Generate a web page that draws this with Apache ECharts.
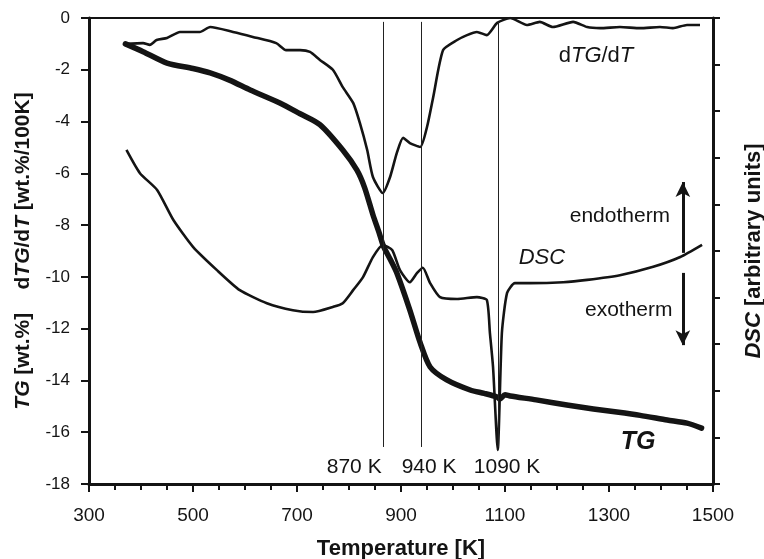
<!DOCTYPE html>
<html>
<head>
<meta charset="utf-8">
<script src="https://cdn.jsdelivr.net/npm/echarts@6/dist/echarts.min.js"></script>
<style>
html,body{margin:0;padding:0;background:#fff;}
#chart{width:764px;height:559px;}
</style>
</head>
<body>
<div id="chart"></div>
<script>
// ---- data ----
var tgT   = [370, 404, 450, 500, 533, 570, 610, 667, 706, 744, 788, 815, 830, 846, 858, 866, 880, 892, 917, 937, 956, 988, 1033, 1060, 1085, 1090, 1100, 1110, 1160, 1219, 1270, 1315, 1360, 1412, 1450, 1478];
var tgV   = [-1.0, -1.3, -1.74, -1.95, -2.12, -2.4, -2.78, -3.28, -3.7, -4.12, -5.1, -5.87, -6.55, -7.6, -8.3, -8.8, -9.35, -9.85, -11.28, -12.55, -13.48, -13.98, -14.37, -14.5, -14.64, -14.72, -14.55, -14.6, -14.75, -14.95, -15.1, -15.22, -15.35, -15.53, -15.65, -15.84];

var dtgT  = [370, 404, 417, 430, 450, 475, 513, 533, 577, 615, 660, 679, 706, 725, 744, 769, 788, 808, 821, 835, 846, 865, 879, 892, 904, 917, 937, 950, 962, 981, 1008, 1027, 1046, 1065, 1085, 1110, 1142, 1167, 1192, 1231, 1258, 1283, 1321, 1360, 1398, 1423, 1450, 1475];
var dtgV  = [-1.0, -0.97, -1.04, -0.85, -0.77, -0.54, -0.54, -0.35, -0.54, -0.73, -0.97, -1.24, -1.24, -1.31, -1.62, -2.0, -2.67, -3.28, -4.06, -5.1, -6.14, -6.76, -6.14, -5.21, -4.63, -4.83, -4.98, -4.21, -3.05, -1.24, -0.85, -0.66, -0.54, -0.66, -0.19, 0, -0.27, -0.15, -0.35, -0.15, -0.35, -0.39, -0.35, -0.39, -0.35, -0.39, -0.27, -0.27];

var dscT  = [372, 398, 431, 462, 500, 546, 590, 642, 692, 731, 769, 788, 808, 827, 846, 865, 883, 898, 917, 931, 942, 956, 975, 1008, 1046, 1065, 1071, 1077, 1086, 1094, 1104, 1119, 1148, 1212, 1258, 1321, 1385, 1437, 1479];
var dscV  = [7.17, 6.67, 6.31, 5.67, 5.09, 4.59, 4.16, 3.88, 3.73, 3.69, 3.80, 3.88, 4.16, 4.44, 4.87, 5.13, 5.02, 4.59, 4.33, 4.53, 4.64, 4.31, 4.01, 3.97, 4.01, 3.95, 3.24, 2.51, 0.73, 3.24, 4.10, 4.31, 4.31, 4.33, 4.38, 4.48, 4.66, 4.87, 5.13];

var eventT      = [865, 938, 1087];
var eventLabels = ['870 K', '940 K', '1090 K'];
var eventLabelT = [810, 954, 1104];

var xTicks = [300, 500, 700, 900, 1100, 1300, 1500];
var yTicks = [0, -2, -4, -6, -8, -10, -12, -14, -16, -18];

// ---- chart ----
var FONT = "'Liberation Sans', Arial, Helvetica, sans-serif";
var INK = '#141414';
function pairs(xs, ys) { return xs.map(function (x, i) { return [x, ys[i]]; }); }

var vLines = eventT.map(function (t) {
  return [{ coord: [t, -16.57] }, { coord: [t, -0.15] }];
});
var eventPts = eventT.map(function (t, i) {
  return { coord: [eventLabelT[i], -17.34], value: eventLabels[i] };
});

var chart = echarts.init(document.getElementById('chart'), null, { renderer: 'canvas' });
var txt = function (size, style, weight) {
  return { fontFamily: FONT, fontSize: size, fontStyle: style || 'normal', fontWeight: weight || 'normal', color: INK };
};

chart.setOption({
  animation: false,
  backgroundColor: '#fff',
  grid: { left: 89, right: 51, top: 18, bottom: 75, containLabel: false, outerBoundsMode: 'none' },
  xAxis: [{
    type: 'value', min: xTicks[0], max: xTicks[xTicks.length - 1], interval: 200,
    position: 'bottom',
    name: 'Temperature [K]', nameLocation: 'middle', nameGap: 54,
    nameTextStyle: txt(22, 'normal', 'bold'),
    axisLine: { show: true, onZero: false, lineStyle: { color: INK, width: 3 } },
    axisTick: { show: true, inside: false, length: 8, lineStyle: { color: INK, width: 2 } },
    minorTick: { show: true, splitNumber: 4, length: 6, lineStyle: { color: INK, width: 2 } },
    axisLabel: Object.assign({ margin: 22, formatter: function (v) { return String(v); } }, txt(19)),
    splitLine: { show: false }, minorSplitLine: { show: false }
  }, {
    type: 'value', min: 300, max: 1500, position: 'top',
    axisLine: { show: true, onZero: false, lineStyle: { color: INK, width: 2 } },
    axisTick: { show: false }, axisLabel: { show: false }, splitLine: { show: false }
  }],
  yAxis: [{
    type: 'value', min: yTicks[yTicks.length - 1], max: yTicks[0], interval: 2,
    position: 'left',
    name: '{i|TG}{n| [wt.%]    d}{i|TG}{n|/d}{i|T}{n| [wt.%/100K]}',
    nameLocation: 'middle', nameRotate: 90, nameGap: 55,
    nameTextStyle: Object.assign(txt(21, 'normal', 'bold'), {
      rich: { i: txt(21, 'italic', 'bold'), n: txt(21, 'normal', 'bold') }
    }),
    axisLine: { show: true, onZero: false, lineStyle: { color: INK, width: 3 } },
    axisTick: { show: true, inside: false, length: 8, lineStyle: { color: INK, width: 2 } },
    axisLabel: Object.assign({ margin: 19, formatter: function (v) { return String(v); } }, txt(17)),
    splitLine: { show: false }
  }, {
    type: 'value', min: 0, max: 10, interval: 1,
    position: 'right',
    name: '{i|DSC}{n| [arbitrary units]}',
    nameLocation: 'middle', nameRotate: 90, nameGap: 30,
    nameTextStyle: Object.assign(txt(22, 'normal', 'bold'), {
      rich: { i: txt(22, 'italic', 'bold'), n: txt(22, 'normal', 'bold') }
    }),
    axisLine: { show: true, onZero: false, lineStyle: { color: INK, width: 3 } },
    axisTick: { show: true, inside: false, length: 7, lineStyle: { color: INK, width: 2 } },
    axisLabel: { show: false },
    splitLine: { show: false }
  }],
  series: [{
    name: 'TG', type: 'line', xAxisIndex: 0, yAxisIndex: 0,
    data: pairs(tgT, tgV), showSymbol: false, symbol: 'none', smooth: 0.25,
    lineStyle: { color: INK, width: 5.5, join: 'round', cap: 'round' },
    z: 3,
    markLine: {
      silent: true, symbol: ['none', 'none'], animation: false,
      label: { show: false },
      lineStyle: { color: '#222', width: 1, type: 'solid' },
      emphasis: { disabled: true },
      data: vLines
    },
    markPoint: {
      silent: true, symbol: 'circle', symbolSize: 0, animation: false,
      label: { show: true, position: 'inside', formatter: function (p) { return p.data.value; }, fontFamily: FONT, fontSize: 21, color: INK },
      data: eventPts.concat([{
        coord: [1356, -16.4], value: 'TG',
        label: { show: true, position: 'inside', formatter: 'TG', fontFamily: FONT, fontSize: 25, fontStyle: 'italic', fontWeight: 'bold', color: INK }
      }])
    }
  }, {
    name: 'dTG/dT', type: 'line', xAxisIndex: 0, yAxisIndex: 0,
    data: pairs(dtgT, dtgV), showSymbol: false, symbol: 'none', smooth: 0.2,
    lineStyle: { color: INK, width: 2.6, join: 'round' },
    z: 2,
    markPoint: {
      silent: true, symbol: 'circle', symbolSize: 0, animation: false,
      data: [{
        coord: [1275, -1.45], value: 'dTG/dT',
        label: {
          show: true, position: 'inside',
          formatter: '{n|d}{i|TG}{n|/d}{i|T}',
          rich: { n: txt(22), i: txt(22, 'italic') }
        }
      }]
    }
  }, {
    name: 'DSC', type: 'line', xAxisIndex: 0, yAxisIndex: 1,
    data: pairs(dscT, dscV), showSymbol: false, symbol: 'none', smooth: 0.2,
    lineStyle: { color: INK, width: 2.6, join: 'round' },
    z: 2,
    markLine: {
      silent: true, symbol: ['none', 'arrow'], symbolSize: [11, 15], animation: false,
      label: { show: false },
      lineStyle: { color: INK, width: 3, type: 'solid' },
      emphasis: { disabled: true },
      data: [
        [{ coord: [1442, 4.96] }, { coord: [1442, 6.48] }],
        [{ coord: [1442, 4.53] }, { coord: [1442, 2.98] }]
      ]
    },
    markPoint: {
      silent: true, symbol: 'circle', symbolSize: 0, animation: false,
      data: [{
        coord: [1171, 4.85], value: 'DSC',
        label: { show: true, position: 'inside', formatter: 'DSC', fontFamily: FONT, fontSize: 22, fontStyle: 'italic', color: INK }
      }, {
        coord: [1321, 5.75], value: 'endotherm',
        label: { show: true, position: 'inside', formatter: 'endotherm', fontFamily: FONT, fontSize: 21, color: INK }
      }, {
        coord: [1338, 3.73], value: 'exotherm',
        label: { show: true, position: 'inside', formatter: 'exotherm', fontFamily: FONT, fontSize: 21, color: INK }
      }]
    }
  }]
});
</script>
</body>
</html>
